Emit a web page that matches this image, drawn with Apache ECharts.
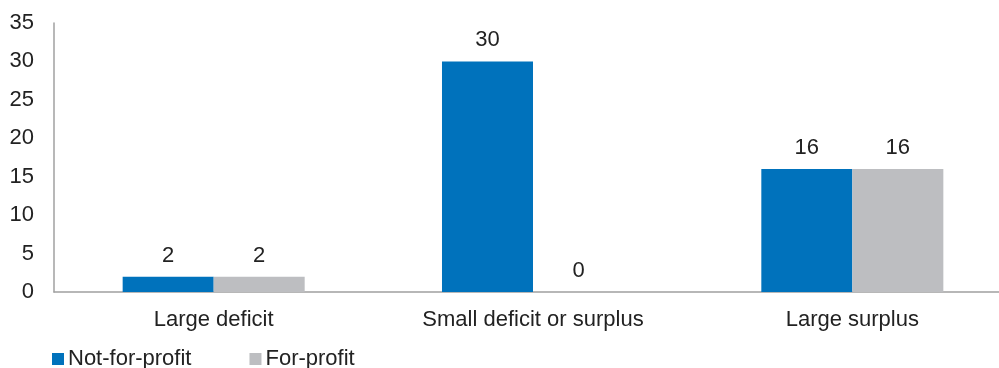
<!DOCTYPE html>
<html>
<head>
<meta charset="utf-8">
<script src="https://cdn.jsdelivr.net/npm/echarts@6/dist/echarts.min.js"></script>
<style>
html,body{margin:0;padding:0;background:#fff;overflow:hidden;}
#main{width:1012px;height:368px;}
</style>
</head>
<body>
<div id="main"></div>
<script>
var categories = ['Large deficit', 'Small deficit or surplus', 'Large surplus'];
var notForProfit = [2, 30, 16];
var forProfit = [2, 0, 16];
var yTicks = [0, 5, 10, 15, 20, 25, 30, 35];

var myChart = echarts.init(document.getElementById('main'));
var font = 'Liberation Sans, Arial, sans-serif';
var fs = 22;
var labelStyle = { show: true, position: 'top', color: '#222', fontSize: fs, fontFamily: font, distance: 10 };

myChart.setOption({
	animation: false,
	textStyle: { fontFamily: font },
	grid: { left: 54, right: 0, top: 23, bottom: 76, containLabel: false },
	legend: {
		left: 47, bottom: -7,
		itemWidth: 12, itemHeight: 12, itemGap: 58,
		icon: 'rect',
		textStyle: { fontSize: fs, color: '#222', fontFamily: font, padding: [0, 0, 0, -1] },
		data: ['Not-for-profit', 'For-profit']
	},
	xAxis: {
		type: 'category',
		data: categories,
		axisLine: { lineStyle: { color: '#a0a0a0', width: 1.5 } },
		axisTick: { show: false },
		axisLabel: { color: '#222', fontSize: fs, fontFamily: font, margin: 17 }
	},
	yAxis: {
		type: 'value',
		min: yTicks[0], max: yTicks[yTicks.length - 1], interval: 5,
		splitLine: { show: false },
		axisLine: { show: true, lineStyle: { color: '#a0a0a0', width: 1.5 } },
		axisTick: { show: false },
		axisLabel: { color: '#222', fontSize: fs, fontFamily: font, margin: 20 }
	},
	series: [
		{ name: 'Not-for-profit', type: 'bar', data: notForProfit, barGap: '0%', barCategoryGap: '43%',
		  itemStyle: { color: '#0072BC' }, label: labelStyle },
		{ name: 'For-profit', type: 'bar', data: forProfit, barGap: '0%', barCategoryGap: '43%',
		  itemStyle: { color: '#BDBEC1' }, label: labelStyle }
	]
});
</script>
</body>
</html>
